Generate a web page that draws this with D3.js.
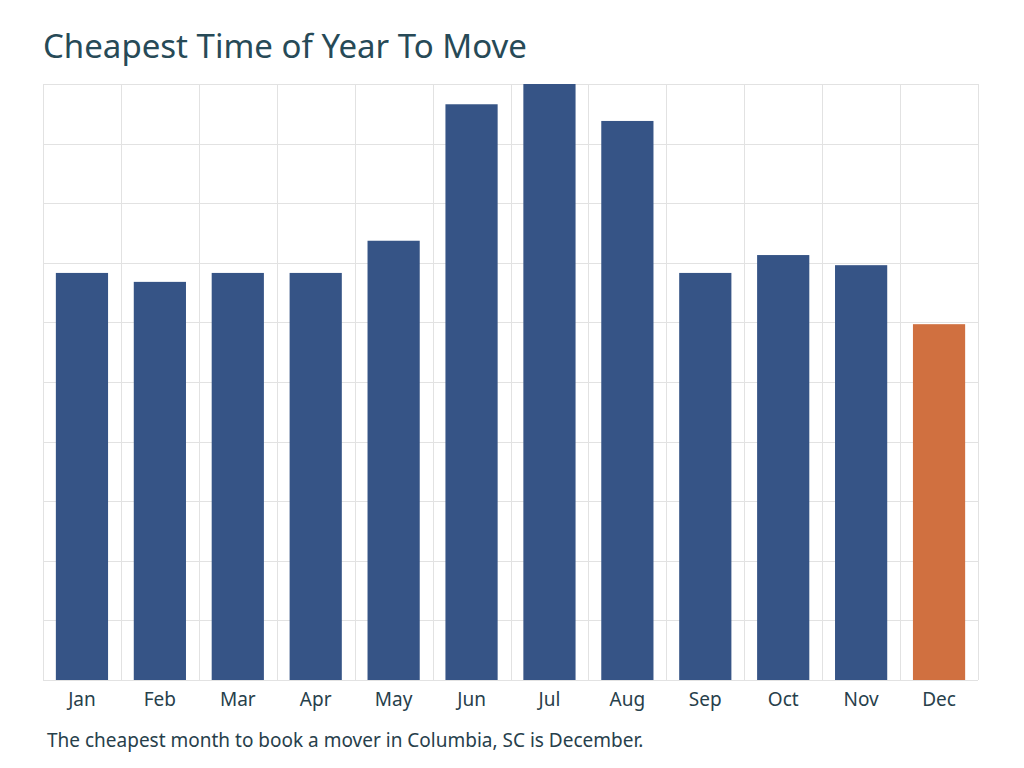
<!DOCTYPE html>
<html>
<head>
<meta charset="utf-8">
<script src="https://cdn.jsdelivr.net/npm/d3@7"></script>
<style>
  body { margin: 0; background: #fff; }
  svg { display: block; font-family: "Noto Sans", "Open Sans", sans-serif; }
</style>
</head>
<body>
<svg id="chart" width="1024" height="768"></svg>
<script>
'use strict';

const months = ['Jan', 'Feb', 'Mar', 'Apr', 'May', 'Jun', 'Jul', 'Aug', 'Sep', 'Oct', 'Nov', 'Dec'];
const relativeCost = [6.83, 6.68, 6.83, 6.83, 7.37, 9.66, 10.0, 9.38, 6.83, 7.13, 6.96, 5.97];
const cheapestMonth = 'Dec';
const yTicks = d3.range(0, 11);

const W = 1024, H = 768;
const m = { top: 84, right: 46, bottom: 88, left: 43 };

const svg = d3.select('#chart');

const x = d3.scaleBand().domain(months).range([m.left, W - m.right]).paddingInner(0.33).paddingOuter(0.165);
const y = d3.scaleLinear().domain([0, 10]).range([H - m.bottom, m.top]);

/* grid: horizontal at ticks, vertical at band edges */
const edges = d3.range(months.length + 1).map(i => m.left + i * (W - m.left - m.right) / months.length);

const grid = svg.append('g').attr('stroke', '#e2e2e2').attr('stroke-width', 1);
grid.selectAll('line.h').data(yTicks).join('line').attr('class', 'h')
  .attr('x1', m.left).attr('x2', W - m.right)
  .attr('y1', d => Math.round(y(d)) + 0.5).attr('y2', d => Math.round(y(d)) + 0.5);
grid.selectAll('line.v').data(edges).join('line').attr('class', 'v')
  .attr('y1', m.top).attr('y2', H - m.bottom)
  .attr('x1', d => Math.round(d) + 0.5).attr('x2', d => Math.round(d) + 0.5);

svg.append('g').selectAll('rect').data(months).join('rect')
  .attr('x', d => x(d))
  .attr('width', x.bandwidth())
  .attr('y', (d, i) => y(relativeCost[i]))
  .attr('height', (d, i) => y(0) - y(relativeCost[i]))
  .attr('fill', d => d === cheapestMonth ? '#d07040' : '#365486');

/* x axis labels */
const xAxis = svg.append('g')
  .attr('transform', `translate(0,${H - m.bottom})`)
  .call(d3.axisBottom(x).tickSize(0).tickPadding(13));
xAxis.select('.domain').remove();
xAxis.selectAll('text')
  .style('font-family', '"Noto Sans", sans-serif')
  .style('font-size', '19px')
  .attr('fill', '#27404b');

svg.append('text')
  .attr('x', 43).attr('y', 58)
  .attr('fill', '#274a57')
  .style('font-size', '33px')
  .text('Cheapest Time of Year To Move');

svg.append('text')
  .attr('x', 47).attr('y', 747)
  .attr('fill', '#27404b')
  .style('font-size', '19px')
  .text('The cheapest month to book a mover in Columbia, SC is December.');
</script>
</body>
</html>
